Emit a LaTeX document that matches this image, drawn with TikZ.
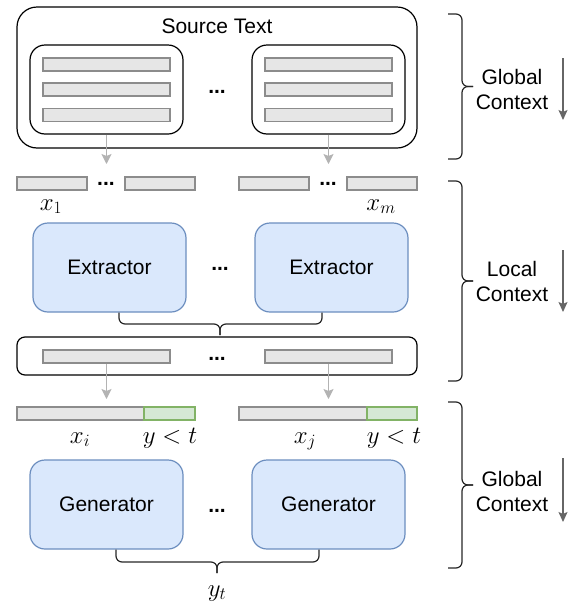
\documentclass[tikz,border=0pt]{standalone}
\usepackage{fontspec}
\setmainfont{Liberation Sans}
\usetikzlibrary{positioning,calc,arrows.meta}

\definecolor{barfill}{HTML}{E6E6E6}
\definecolor{bardraw}{HTML}{8C8C8C}
\definecolor{modfill}{HTML}{DAE8FC}
\definecolor{moddraw}{HTML}{6C8EBF}
\definecolor{prevfill}{HTML}{D5E8D4}
\definecolor{prevdraw}{HTML}{82B366}
\definecolor{flowgray}{HTML}{B3B3B3}
\definecolor{dirgray}{HTML}{666666}

\tikzset{
  bar/.style={draw=bardraw,fill=barfill,line width=1.2pt,minimum height=13pt,inner sep=0pt},
  prevbar/.style={bar,draw=prevdraw,fill=prevfill},
  ctxframe/.style={draw,line width=1.2pt,inner sep=0pt},
  module/.style={draw=moddraw,fill=modfill,line width=1.2pt,rounded corners=15pt,
    minimum width=153pt,minimum height=89pt,font=\fontsize{21}{25}\selectfont},
  dots/.style={font=\fontsize{21}{25}\selectfont\bfseries,anchor=base,inner sep=0pt},
  lbl/.style={font=\fontsize{24}{28}\selectfont,anchor=base,inner sep=0pt},
  ctxlbl/.style={align=center,font=\fontsize{21}{25}\selectfont},
  flow/.style={draw=flowgray,line width=1.2pt,-{Stealth[length=10pt,width=10pt,inset=2pt]}},
  dir/.style={draw=dirgray,line width=1.2pt,-{Stealth[length=10pt,width=9pt,inset=2pt]}},
  curly/.style={draw=black!85,line width=1.2pt,rounded corners=6pt}
}

\begin{document}
\begin{tikzpicture}[x=1pt,y=-1pt]
  \useasboundingbox (0,0) rectangle (574,603);

  \node[ctxframe,rounded corners=20pt,minimum width=400pt,minimum height=141pt] (src) at (217,77.5) {};
  \node[ctxlbl] (srclbl) at (217,26) {Source Text};

  \begin{scope}[every node/.style={ctxframe,rounded corners=15pt,minimum width=153pt,minimum height=89pt}]
    \node (doc1) at (106.5,89.5) {};
    \node (doc2) at (328.5,89.5) {};
  \end{scope}

  \begin{scope}[every node/.style={bar,minimum width=127pt}]
    \foreach \y [count=\i] in {64.5,89.5,115} {
      \node (sa\i) at (106.5,\y) {};
      \node (sb\i) at (328.5,\y) {};
    }
  \end{scope}
  \node[dots] (srcdots) at (217,93) {...};

  \coordinate (x1in) at (106.5,164);
  \coordinate (xmin) at (328.5,164);
  \path (doc1) edge[flow] (x1in);
  \path (doc2) edge[flow] (xmin);

  \begin{scope}[every node/.style={bar,minimum width=70pt}]
    \node (x1) at (52,183.5) {};
    \node (x2) at (160,183.5) {};
    \node (x3) at (274,183.5) {};
    \node (x4) at (382,183.5) {};
  \end{scope}
  \node[dots] (xdots1) at (106,185.5) {...};
  \node[dots] (xdots2) at (328,185.5) {...};
  \node[lbl] (x1lbl) at (51,210) {$x_1$};
  \node[lbl] (xmlbl) at (381,210) {$x_m$};

  \node[module] (ext1) at (109.5,267.5) {Extractor};
  \node[module] (ext2) at (331.5,267.5) {Extractor};
  \node[dots] (extdots) at (220,270) {...};

  \coordinate (extmid) at (220,324);
  \coordinate (exttip) at (220,335);
  \draw[curly] ($(ext1.south)+(9.5,0)$) |- (extmid) -- (exttip);
  \draw[curly] ($(ext2.south)-(9.5,0)$) |- (extmid) -- (exttip);

  \node[ctxframe,rounded corners=8pt,minimum width=400pt,minimum height=38pt] (sel) at (217,356) {};
  \begin{scope}[every node/.style={bar,minimum width=127pt}]
    \node (s1) at (106.5,356.5) {};
    \node (s2) at (328.5,356.5) {};
  \end{scope}
  \node[dots] (seldots) at (217,360) {...};

  \coordinate (g1in) at (106.5,399);
  \coordinate (g2in) at (328.5,399);
  \path (s1) edge[flow] (g1in);
  \path (s2) edge[flow] (g2in);

  \node[bar,minimum width=127pt] (xi) at (80.5,413.5) {};
  \node[prevbar,minimum width=51pt] (yi) at (169.5,413.5) {};
  \node[bar,minimum width=128pt] (xj) at (303,413.5) {};
  \node[prevbar,minimum width=50pt] (yj) at (392,413.5) {};
  \node[lbl] (xilbl) at (80,443) {$x_i$};
  \node[lbl] (yilbl) at (170,443) {$y<t$};
  \node[lbl] (xjlbl) at (305,443) {$x_j$};
  \node[lbl] (yjlbl) at (394,443) {$y<t$};

  \node[module] (gen1) at (106.5,504.5) {Generator};
  \node[module] (gen2) at (328.5,504.5) {Generator};
  \node[dots] (gendots) at (217,512) {...};

  \coordinate (genmid) at (217,562);
  \coordinate (gentip) at (217,573);
  \draw[curly] ($(gen1.south)+(9.5,0)$) |- (genmid) -- (gentip);
  \draw[curly] ($(gen2.south)-(9.5,0)$) |- (genmid) -- (gentip);
  \node[lbl] (ytlbl) at (217,596) {$y_t$};

  \coordinate (c1top) at (448,14);
  \coordinate (c1bot) at (448,159);
  \coordinate (c1mid) at (462,86.5);
  \coordinate (c1tip) at (473,86.5);
  \draw[curly] (c1top) -| (c1mid) -- (c1tip);
  \draw[curly] (c1bot) -| (c1mid) -- (c1tip);
  \node[ctxlbl] (gctx1) at (512,89) {Global\\Context};

  \coordinate (c2top) at (448,181);
  \coordinate (c2bot) at (448,381);
  \coordinate (c2mid) at (462,281);
  \coordinate (c2tip) at (473,281);
  \draw[curly] (c2top) -| (c2mid) -- (c2tip);
  \draw[curly] (c2bot) -| (c2mid) -- (c2tip);
  \node[ctxlbl] (lctx) at (512,281) {Local\\Context};

  \coordinate (c3top) at (448,402);
  \coordinate (c3bot) at (448,568);
  \coordinate (c3mid) at (462,485);
  \coordinate (c3tip) at (473,485);
  \draw[curly] (c3top) -| (c3mid) -- (c3tip);
  \draw[curly] (c3bot) -| (c3mid) -- (c3tip);
  \node[ctxlbl] (gctx2) at (512,491) {Global\\Context};

  \coordinate (d1a) at (563,58);
  \coordinate (d1b) at (563,120);
  \coordinate (d2a) at (563,250);
  \coordinate (d2b) at (563,312);
  \coordinate (d3a) at (563,458);
  \coordinate (d3b) at (563,522);
  \path (d1a) edge[dir] (d1b);
  \path (d2a) edge[dir] (d2b);
  \path (d3a) edge[dir] (d3b);

\end{tikzpicture}
\end{document}
